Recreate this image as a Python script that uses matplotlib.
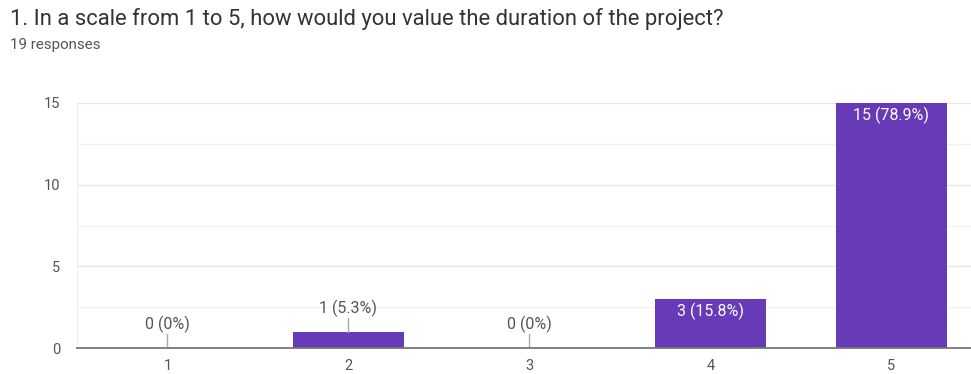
import matplotlib
matplotlib.use("Agg")
import matplotlib.pyplot as plt
from matplotlib.ticker import MultipleLocator

plt.rcParams['font.family'] = ['Roboto', 'DejaVu Sans']

title = "1. In a scale from 1 to 5, how would you value the duration of the project?"
subtitle = "19 responses"
categories = ["1", "2", "3", "4", "5"]
counts = [0, 1, 0, 3, 15]
labels = ["0 (0%)", "1 (5.3%)", "0 (0%)", "3 (15.8%)", "15 (78.9%)"]

bar_color = "#673ab7"
text_color = "#555555"

W, H = 971, 374
fig = plt.figure(figsize=(W / 100, H / 100), dpi=100)
ax = fig.add_axes([77 / W, (H - 348) / H, (971 - 77) / W, 245 / H])

x = list(range(1, len(categories) + 1))
ax.bar(x, counts, width=0.61, color=bar_color, zorder=3)

ax.set_xlim(0.5, 5.44)
ax.set_ylim(0, 15)
ax.yaxis.set_major_locator(MultipleLocator(5))
ax.yaxis.set_minor_locator(MultipleLocator(2.5))
ax.grid(axis='y', which='major', color='#e6e6e6', lw=1, zorder=0)
ax.grid(axis='y', which='minor', color='#f2f2f2', lw=1, zorder=0)
ax.set_xticks(x)
ax.set_xticklabels(categories)
ax.tick_params(axis='both', which='both', length=0, labelsize=10.5, colors=text_color)
ax.tick_params(axis='x', pad=8)
ax.tick_params(axis='y', pad=12)
for s in ['top', 'right']:
    ax.spines[s].set_visible(False)
ax.spines['left'].set_color('#eeeeee')
ax.spines['bottom'].set_color('#777777')
ax.spines['bottom'].set_linewidth(1.3)
ax.spines['bottom'].set_zorder(5)

for xi, c, lab in zip(x, counts, labels):
    if c >= 3:
        ax.text(xi, c - 0.25, lab, ha='center', va='top', color='white', fontsize=11.5, zorder=6)
    else:
        ax.plot([xi, xi], [c, c + 0.85], color='#aaaaaa', lw=1, zorder=4)
        ax.text(xi, c + 0.9, lab, ha='center', va='bottom', color=text_color, fontsize=11.5, zorder=6)

fig.text(10 / W, 1 - 19 / H, title, ha='left', va='center', fontsize=15.8, color='#333333')
fig.text(10 / W, 1 - 45 / H, subtitle, ha='left', va='center', fontsize=10.9, color='#555555')

fig.savefig("out.png", dpi=100, facecolor='white')
